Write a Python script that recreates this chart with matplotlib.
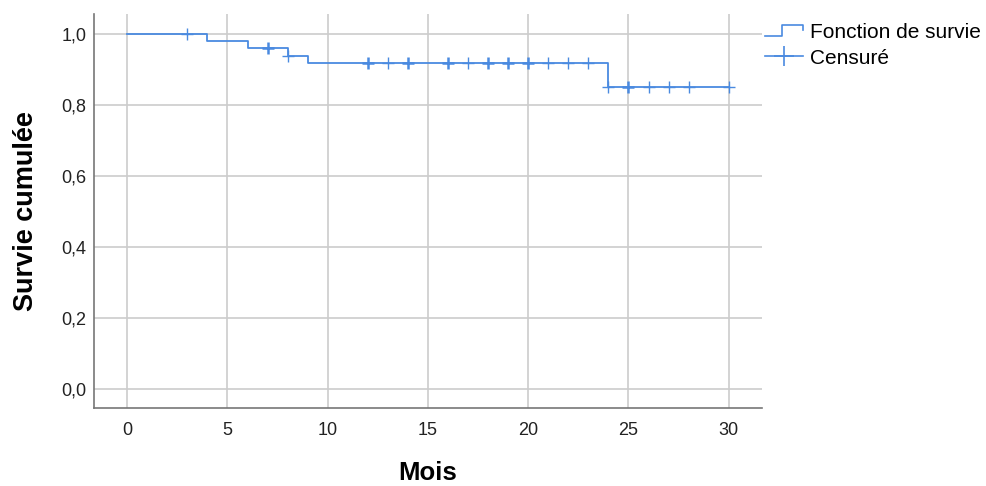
import numpy as np
import matplotlib
matplotlib.use("Agg")
import matplotlib.pyplot as plt
from matplotlib.lines import Line2D
from matplotlib.legend_handler import HandlerBase

# donnees
temps_ev = [0, 4, 6, 8, 9, 24, 30]
survie = [1.0, 0.980, 0.960, 0.938, 0.917, 0.851, 0.851]
temps_cens = [3, 7, 7, 8, 12, 12, 13, 14, 14, 16, 16, 17, 18, 18, 19, 19, 20, 20,
              21, 22, 23, 24, 25, 25, 26, 27, 28, 30]
xticks = [0, 5, 10, 15, 20, 25, 30]
yticks = [0.0, 0.2, 0.4, 0.6, 0.8, 1.0]

bleu = '#4a8ae0'
plt.rcParams['font.family'] = ['Liberation Sans', 'DejaVu Sans']


def survie_a(t):
    idx = np.searchsorted(temps_ev, t, side='right') - 1
    return survie[idx]


class HandlerEscalier(HandlerBase):
    def create_artists(self, legend, orig, xd, yd, w, h, fs, trans):
        xs = [0, 0.45 * w, 0.45 * w, w, w]
        ys = [0.15 * h, 0.15 * h, 0.9 * h, 0.9 * h, 0.55 * h]
        l = Line2D(xs, ys, color=bleu, lw=1.2, transform=trans)
        return [l]


fig = plt.figure(figsize=(9.86, 4.86), dpi=100)
ax = fig.add_axes([0.0953, 0.1605, 0.6775, 0.8105])

ax.plot(temps_ev, survie, drawstyle='steps-post', color=bleu, lw=1.3)

tc, nb = np.unique(temps_cens, return_counts=True)
for t, n in zip(tc, nb):
    ax.plot(t, survie_a(t), marker='+', ms=9, mew=1.0 + 0.8 * (n - 1),
            color=bleu, ls='none')

ax.set_xlim(-1.66, 31.66)
ax.set_ylim(-0.0535, 1.056)
ax.set_xticks(xticks)
ax.set_yticks(yticks)
ax.set_yticklabels([f'{v:.1f}'.replace('.', ',') for v in yticks])
ax.tick_params(length=0, labelsize=13, colors='#222222')
ax.tick_params(axis='x', pad=10)
ax.tick_params(axis='y', pad=5.5)
ax.grid(True, color='#cccccc', lw=1.2)
ax.set_axisbelow(True)
for s in ['top', 'right']:
    ax.spines[s].set_visible(False)
for s in ['left', 'bottom']:
    ax.spines[s].set_color('#777777')
    ax.spines[s].set_linewidth(1.2)

ax.set_xlabel('Mois', fontsize=18.5, fontweight='bold', labelpad=16)
ax.set_ylabel('Survie cumulée', fontsize=19.5, fontweight='bold', labelpad=16)

h1 = Line2D([], [], color=bleu, lw=1.2)
h2 = Line2D([], [], color=bleu, lw=1.2, marker='+', ms=15, mew=1.2)
fig.legend([h1, h2], ['Fonction de survie', 'Censuré'],
           handler_map={h1: HandlerEscalier()},
           loc='upper left', bbox_to_anchor=(0.776, 0.952), frameon=False,
           fontsize=15, handlelength=1.83, handletextpad=0.34,
           labelspacing=0.3, numpoints=1, borderaxespad=0, borderpad=0)

fig.savefig('out.png', dpi=100)
